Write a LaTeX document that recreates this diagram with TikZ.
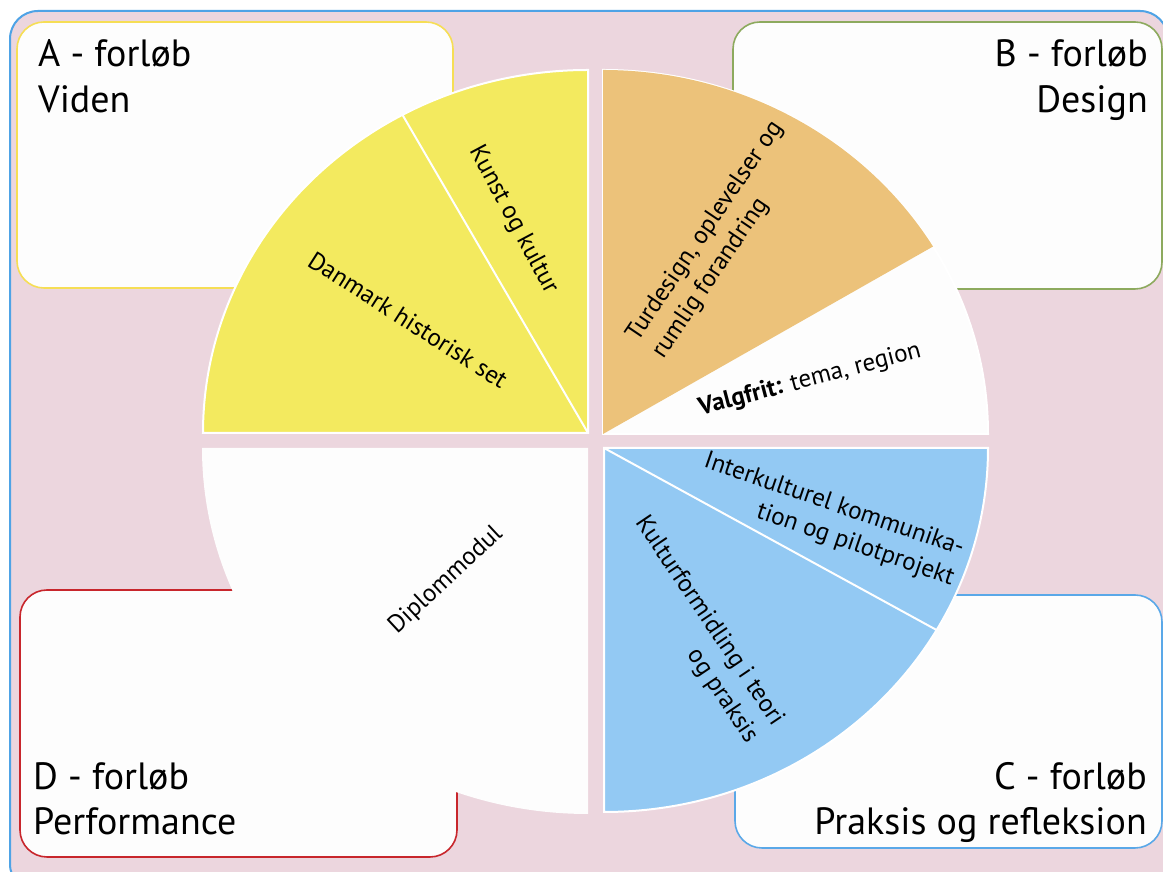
\documentclass[tikz,border=0pt]{standalone}
\usepackage{fontspec}
\setmainfont{PT Sans}
\usetikzlibrary{calc}
\definecolor{bg}{HTML}{ECD6DE}
\definecolor{frameblue}{HTML}{4EA3E6}
\definecolor{ayel}{HTML}{F6DE55}
\definecolor{bgreen}{HTML}{8DAA5E}
\definecolor{dred}{HTML}{C8262C}
\definecolor{cblue}{HTML}{5AA8E8}
\definecolor{yel}{HTML}{F3EA5F}
\definecolor{orng}{HTML}{ECC27A}
\definecolor{lblue}{HTML}{93C9F3}
\definecolor{offwhite}{HTML}{FDFDFD}
\tikzset{
  box/.style={rectangle, rounded corners=27pt, fill=offwhite, line width=1.6pt, inner sep=0pt, outer sep=0pt},
  title/.style={font=\fontsize{38}{46}\selectfont, inner sep=0pt},
  wlabel/.style={font=\fontsize{25}{31}\selectfont, align=center, inner sep=0pt},
  wedgeline/.style={draw=white, line width=2pt},
}
\begin{document}
\begin{tikzpicture}[x=1pt,y=1pt]
\useasboundingbox (0,0) rectangle (1163,872);
\clip (0,0) rectangle (1163,872);
\fill[white] (0,0) rectangle (1163,872);
\draw[rounded corners=28pt, fill=bg, draw=frameblue, line width=2pt] (10,-20) rectangle (1168,861);

% boxes
\node[box, draw=ayel, minimum width=436pt, minimum height=266pt] (boxA) at (235,717) {};
\node[box, draw=bgreen, minimum width=429pt, minimum height=267pt] (boxB) at (947.5,716.5) {};
\node[box, draw=dred, minimum width=437pt, minimum height=267pt] (boxD) at (238.5,148.5) {};
\node[box, draw=cblue, minimum width=427pt, minimum height=253pt] (boxC) at (948.5,150.5) {};

% quadrants
\coordinate (cTL) at (588,439);
\coordinate (cTR) at (603,438);
\coordinate (cBL) at (588,424);
\coordinate (cBR) at (604,424);

\filldraw[fill=yel, wedgeline] (cTL) -- ++(90:385 and 363) arc[start angle=90, end angle=180, x radius=385pt, y radius=363pt] -- cycle;
\draw[wedgeline] (cTL) -- ++(118.8:385 and 363);

\filldraw[fill=offwhite, wedgeline] (cTR) -- ++(0:385 and 364) arc[start angle=0, end angle=90, x radius=385pt, y radius=364pt] -- cycle;
\filldraw[fill=orng, draw=none] (cTR) -- ++(31:385 and 364) arc[start angle=31, end angle=90, x radius=385pt, y radius=364pt] -- cycle;

\filldraw[fill=offwhite, draw=none] (cBL) -- ++(180:386 and 366) arc[start angle=180, end angle=270, x radius=386pt, y radius=366pt] -- cycle;

\filldraw[fill=lblue, wedgeline] (cBR) -- ++(0:384 and 364) arc[start angle=0, end angle=-90, x radius=384pt, y radius=364pt] -- cycle;
\draw[wedgeline] (cBR) -- ++(-30:384 and 364);

% wedge labels
\node[wlabel, rotate=-62] (kunst) at (513,652) {Kunst og kultur};
\node[wlabel, rotate=-32.6] (danmark) at (408,552) {Danmark historisk set};
\node[wlabel, rotate=56, align=left] (tur) at (718,632) {Turdesign, oplevelser og\\rumlig forandring};
\node[wlabel, rotate=14.7] (valg) at (810,492) {\textbf{Valgfrit:} tema, region};
\node[wlabel, rotate=-19, align=right] (inter) at (829,352) {Interkulturel kommunika-\\tion og pilotprojekt};
\node[wlabel, rotate=-56, align=right] (kultur) at (696,242) {Kulturformidling i teori\\og praksis};
\node[wlabel, rotate=43] (diplom) at (446,292) {Diplommodul};

% titles
\node[title, anchor=base west] (tA1) at (38,805) {A - forløb};
\node[title, anchor=base west] (tA2) at (38,759) {Viden};
\node[title, anchor=base east] (tB1) at (1148,805) {B - forløb};
\node[title, anchor=base east] (tB2) at (1148,759) {Design};
\node[title, anchor=base west] (tD1) at (33,82) {D - forløb};
\node[title, anchor=base west] (tD2) at (33,37) {Performance};
\node[title, anchor=base east] (tC1) at (1147,82) {C - forløb};
\node[title, anchor=base east] (tC2) at (1147,37) {Praksis og refleksion};
\end{tikzpicture}
\end{document}
